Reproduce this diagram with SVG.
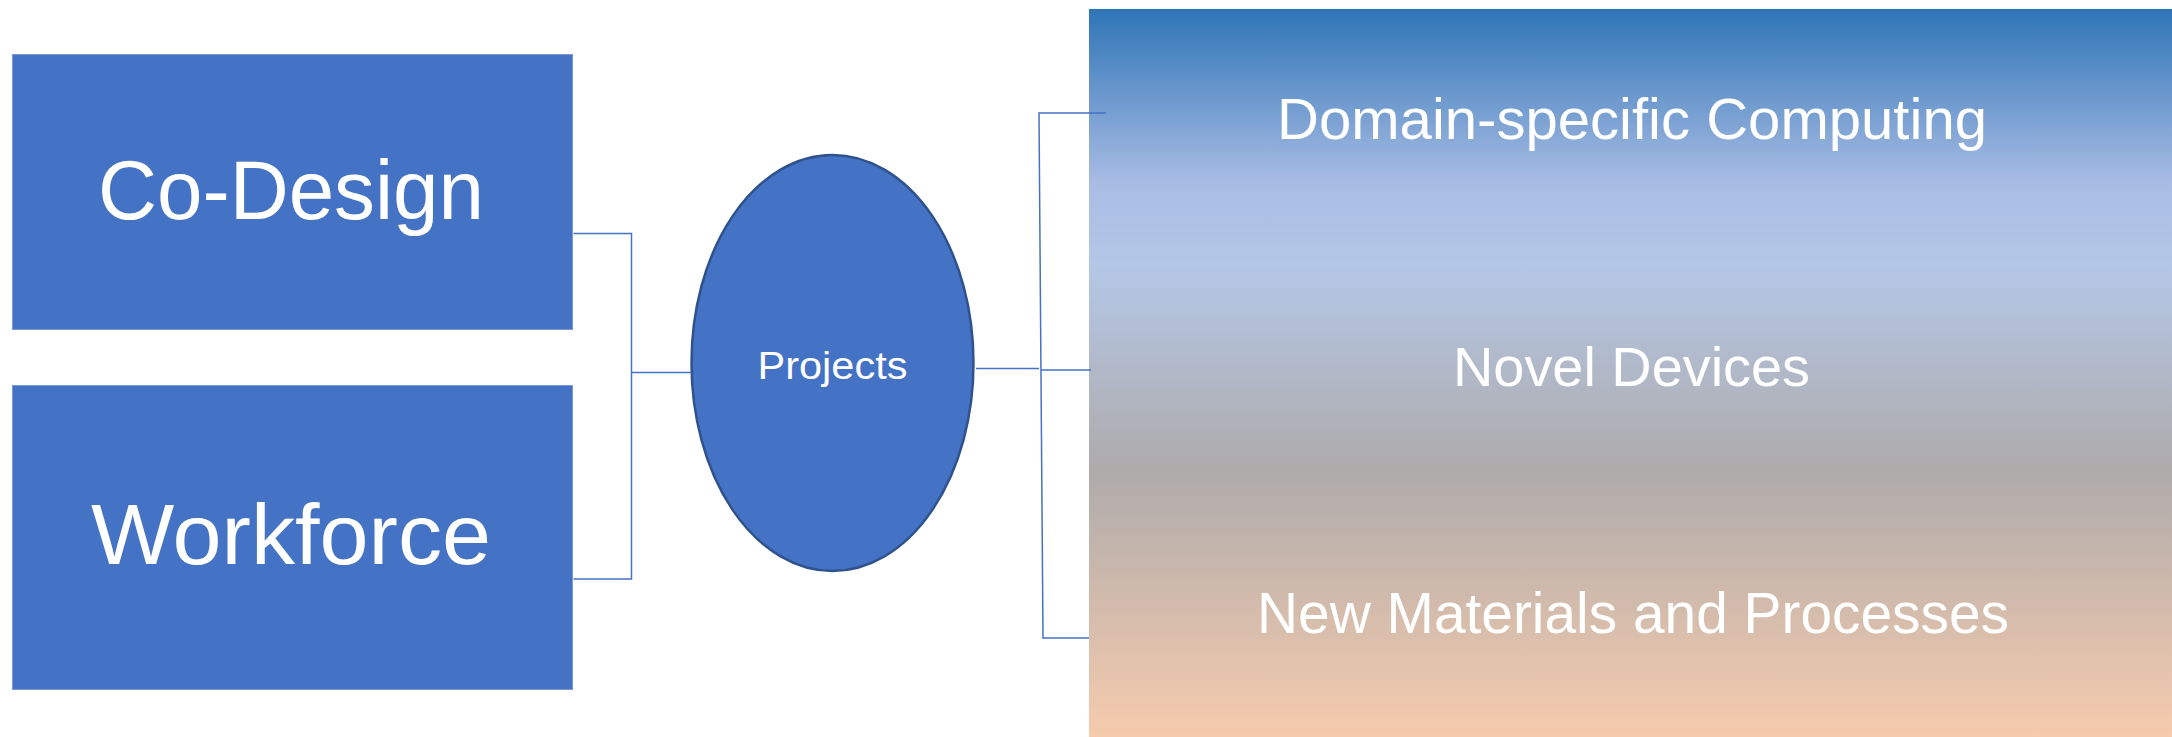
<svg xmlns="http://www.w3.org/2000/svg" width="2172" height="737" viewBox="0 0 2172 737">
  <defs>
    <linearGradient id="grad" x1="0" y1="0" x2="0" y2="1">
      <stop offset="0" stop-color="#2E75B6"/>
      <stop offset="0.24" stop-color="#A9BCE4"/>
      <stop offset="0.35" stop-color="#B4C7E7"/>
      <stop offset="0.633" stop-color="#AEABAB"/>
      <stop offset="1" stop-color="#F6CBAD"/>
    </linearGradient>
  </defs>
  <style>
    .box { fill: #4472C4; stroke: #7A9AD6; stroke-width: 1; }
    .oval { fill: #4472C4; stroke: #2F528F; stroke-width: 2.5; }
    .lbl { font-family: "Liberation Sans", Arial, sans-serif; fill: #FFFFFF; text-anchor: middle; }
    .conn { fill: none; stroke: #4472C4; stroke-width: 1.5; }
  </style>
  <rect width="2172" height="737" fill="#FFFFFF"/>

  <g id="panel">
    <rect x="1089" y="9" width="1083" height="728" fill="url(#grad)"/>
  </g>

  <g id="codesign">
    <rect class="box" x="12.5" y="54.5" width="560" height="275"/>
    <text class="lbl" x="291" y="219" font-size="84" textLength="386" lengthAdjust="spacingAndGlyphs">Co-Design</text>
  </g>

  <g id="workforce">
    <rect class="box" x="12.5" y="385.5" width="560" height="304"/>
    <text class="lbl" x="291" y="564" font-size="85" textLength="400" lengthAdjust="spacingAndGlyphs">Workforce</text>
  </g>

  <g id="projects">
    <ellipse class="oval" cx="832.5" cy="363" rx="141" ry="208"/>
    <text class="lbl" x="832.5" y="378.5" font-size="39" textLength="150" lengthAdjust="spacingAndGlyphs">Projects</text>
  </g>

  <g id="domain">
    <text class="lbl" x="1632" y="138.5" font-size="57" textLength="710" lengthAdjust="spacingAndGlyphs">Domain-specific Computing</text>
  </g>

  <g id="novel">
    <text class="lbl" x="1631.5" y="386" font-size="56" textLength="357" lengthAdjust="spacingAndGlyphs">Novel Devices</text>
  </g>

  <g id="materials">
    <text class="lbl" x="1633" y="633" font-size="57" textLength="752" lengthAdjust="spacingAndGlyphs">New Materials and Processes</text>
  </g>

  <g id="connectors">
    <polyline class="conn" points="573.5,233.5 631.5,233.5 631.5,579 573.5,579"/>
    <line class="conn" x1="631.5" y1="372.5" x2="691.5" y2="372.5"/>
    <line class="conn" x1="976" y1="368.5" x2="1039" y2="368.5"/>
    <polyline class="conn" points="1106,113 1039,113 1043,638 1089,638"/>
    <line class="conn" x1="1041" y1="370" x2="1091" y2="370"/>
  </g>
</svg>
